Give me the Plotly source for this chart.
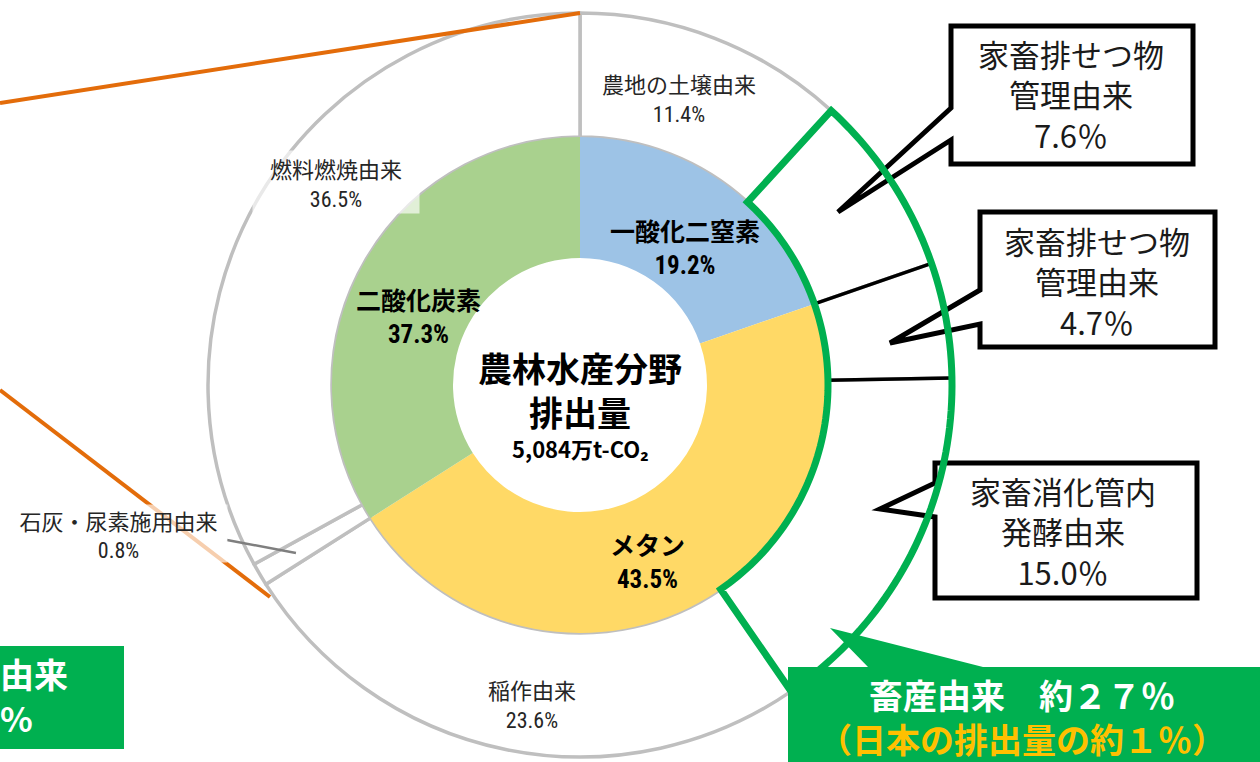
import math
import plotly.graph_objects as go

# ---------------- data ----------------
# inner ring: gas type
inner_names = ["一酸化二窒素", "メタン", "二酸化炭素"]
inner_pct_text = ["19.2%", "43.5%", "37.3%"]
inner_values = [19.7, 46.3, 34.0]          # slice sizes as drawn in the picture
inner_colors = ["#9DC3E6", "#FFD966", "#A9D18E"]

# outer ring: source
outer_names = ["農地の土壌由来", "家畜排せつ物<br>管理由来", "家畜排せつ物<br>管理由来",
               "家畜消化管内<br>発酵由来", "稲作由来", "石灰・尿素施用由来", "燃料燃焼由来"]
outer_pct_text = ["11.4%", "7.6％", "4.7％", "15.0％", "23.6%", "0.8%", "36.5%"]
outer_values = [11.8, 7.9, 5.0, 15.7, 25.6, 1.0, 33.0]   # slice sizes as drawn

center_title = ["農林水産分野", "排出量"]
center_total = "5,084万t-CO₂"
livestock_note = ["畜産由来　約２７％", "（日本の排出量の約１％）"]
left_note = ["由来", "%"]

# ---------------- layout constants ----------------
W, H = 1260, 762
CX, CY = 580, 385
R_OUT, R_MID, R_HOLE = 372, 248, 127
FONT = "Noto Sans CJK JP, Noto Sans, sans-serif"
NARROW = "Liberation Sans Narrow, Roboto Condensed, Liberation Sans, sans-serif"
GREEN = "#00B050"
ORANGE = "#E36C0A"


def fx(x):
    return x / W


def fy(y):
    return 1 - y / H


def P(x, y):
    return f"{fx(x):.5f},{fy(y):.5f}"


def polar(r, frac):
    a = 2 * math.pi * frac
    return CX + r * math.sin(a), CY - r * math.cos(a)


def path_of(pts, close=True):
    s = "M " + " L ".join(P(*p) for p in pts)
    return s + (" Z" if close else "")


def narrow(s):
    return f'<span style="font-family:{NARROW}">{s}</span>'


tot = sum(outer_values)
cum = [0.0]
for v in outer_values:
    cum.append(cum[-1] + v / tot)

fig = go.Figure()

fig.add_trace(go.Pie(
    values=outer_values,
    labels=[f"{n.replace('<br>', '')} {p}" for n, p in zip(outer_names, outer_pct_text)],
    sort=False, direction="clockwise", rotation=0,
    hole=R_MID / R_OUT,
    marker=dict(colors=["#FFFFFF"] * len(outer_values), line=dict(color="#BFBFBF", width=3.5)),
    textinfo="none", hoverinfo="label",
    domain=dict(x=[fx(CX - R_OUT), fx(CX + R_OUT)], y=[fy(CY + R_OUT), fy(CY - R_OUT)]),
    showlegend=False,
))

fig.add_trace(go.Pie(
    values=inner_values,
    labels=[f"{n} {p}" for n, p in zip(inner_names, inner_pct_text)],
    sort=False, direction="clockwise", rotation=0,
    hole=R_HOLE / R_MID,
    marker=dict(colors=inner_colors, line=dict(width=0)),
    textinfo="none", hoverinfo="label",
    domain=dict(x=[fx(CX - R_MID), fx(CX + R_MID)], y=[fy(CY + R_MID), fy(CY - R_MID)]),
    showlegend=False,
))

shapes = []


def line(x0, y0, x1, y1, color, width):
    shapes.append(dict(type="line", xref="paper", yref="paper",
                       x0=fx(x0), y0=fy(y0), x1=fx(x1), y1=fy(y1),
                       line=dict(color=color, width=width)))


# orange connector lines (to a cut-off chart on the left)
line(0, 103, CX, CY - R_OUT, ORANGE, 4)
line(0, 390, 270, 597, ORANGE, 4)

# leader line for the thin slice
lx, ly = polar(330, (cum[5] + cum[6]) / 2)
line(227, 540, lx, ly, "#7F7F7F", 2.5)

# black separators between the livestock slices
for k in (2, 3):
    x0, y0 = polar(R_MID, cum[k])
    x1, y1 = polar(R_OUT, cum[k])
    line(x0, y0, x1, y1, "#000000", 3.5)

# callout boxes
callouts = [
    ([(951, 26), (1193, 26), (1193, 164), (951, 164), (951, 140), (838, 212), (951, 108)]),
    ([(980, 212), (1215, 212), (1215, 347), (980, 347), (980, 324), (890, 343), (980, 290)]),
    ([(935, 463), (1197, 463), (1197, 598), (935, 598), (935, 517), (880, 509), (935, 483)]),
]
for pts in callouts:
    shapes.append(dict(type="path", xref="paper", yref="paper", path=path_of(pts),
                       fillcolor="#FFFFFF", line=dict(color="#000000", width=5)))

# green outline around the livestock slices
fa, fb = cum[1], cum[4]
n = 80
gpts = [polar(R_OUT, fa), polar(R_MID, fa)]
gpts += [polar(R_MID, fa + (fb - fa) * k / n) for k in range(1, n + 1)]
gpts += [polar(R_OUT, fb)]
gpts += [polar(R_OUT, fb - (fb - fa) * k / n) for k in range(1, n + 1)]
shapes.append(dict(type="path", xref="paper", yref="paper", path=path_of(gpts),
                   fillcolor="rgba(0,0,0,0)", line=dict(color=GREEN, width=7)))

# green note boxes
shapes.append(dict(type="path", xref="paper", yref="paper",
                   path=path_of([(788, 667), (868, 667), (830, 628), (983, 667),
                                 (1270, 667), (1270, 770), (788, 770)]),
                   fillcolor=GREEN, line=dict(width=0)))
shapes.append(dict(type="path", xref="paper", yref="paper",
                   path=path_of([(-10, 646), (124, 646), (124, 749), (-10, 749)]),
                   fillcolor=GREEN, line=dict(width=0)))

ann = []


def text(x, y, s, size, color="#262626", bold=False, xanchor="center", align="center", **kw):
    if bold:
        s = "<b>" + s.replace("<br>", "</b><br><b>") + "</b>"
    ann.append(dict(xref="paper", yref="paper", x=fx(x), y=fy(y), text=s,
                    showarrow=False, xanchor=xanchor, yanchor="middle", align=align,
                    font=dict(family=FONT, size=size, color=color), **kw))


# outer labels
text(679, 97, f"{outer_names[0]}<br>{narrow(outer_pct_text[0])}", 22)
text(532, 703, f"{outer_names[4]}<br>{narrow(outer_pct_text[4])}", 22)
text(118.5, 533.5, f"{outer_names[5]}<br>{narrow(outer_pct_text[5])}", 22,
     bgcolor="rgba(255,255,255,0.67)", width=217, height=57, borderpad=0)
text(336, 182, f"{outer_names[6]}<br>{narrow(outer_pct_text[6])}", 22,
     bgcolor="rgba(255,255,255,0.65)", width=166, height=62, borderpad=0)

# callout texts
text(1071, 94, f"{outer_names[1]}<br>{outer_pct_text[1]}", 31, color="#1A1A1A")
text(1097, 281, f"{outer_names[2]}<br>{outer_pct_text[2]}", 31, color="#1A1A1A")
text(1063, 531, f"{outer_names[3]}<br>{outer_pct_text[3]}", 31, color="#1A1A1A")

# inner labels
text(685, 246, f"{inner_names[0]}<br>{narrow(inner_pct_text[0])}", 25, color="#000000", bold=True)
text(648, 560, f"{inner_names[1]}<br>{narrow(inner_pct_text[1])}", 25, color="#000000", bold=True)
text(418, 315, f"{inner_names[2]}<br>{narrow(inner_pct_text[2])}", 25, color="#000000", bold=True)

# center
text(CX, 389, "<br>".join(center_title), 34, color="#000000", bold=True, borderpad=0)
text(CX, 448, center_total, 22, color="#000000", bold=True, borderpad=0)

# green notes
text(1022, 716,
     f"{livestock_note[0]}<br><span style=\"color:#FFC000\">{livestock_note[1]}</span>",
     34, color="#FFFFFF", bold=True, borderpad=0)
text(-2, 695, "<br>".join(left_note), 34, color="#FFFFFF", bold=True, xanchor="left", align="left")

fig.update_layout(
    width=W, height=H,
    margin=dict(l=0, r=0, t=0, b=0),
    paper_bgcolor="#FFFFFF", plot_bgcolor="#FFFFFF",
    showlegend=False,
    shapes=shapes,
    annotations=ann,
)

fig.write_html("out.html", config={"displayModeBar": False},
               post_script="document.body.style.margin='0px';document.body.style.overflow='hidden';")
